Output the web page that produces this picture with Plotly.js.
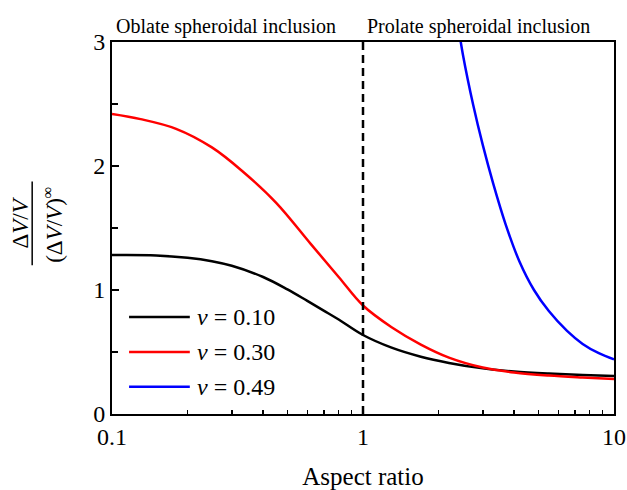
<!DOCTYPE html>
<html>
<head>
<meta charset="utf-8">
<script src="https://cdn.plot.ly/plotly-3.0.1.min.js"></script>
<style>html,body{margin:0;padding:0;background:#fff;}#chart{width:627px;height:490px;}</style>
</head>
<body>
<div id="chart"></div>
<script>
// ---- data ----
const seriesNames = ["<i>ν</i> = 0.10", "<i>ν</i> = 0.30", "<i>ν</i> = 0.49"];
const seriesColors = ["#000000", "#ff0000", "#0000ff"];

const x010 = [0.1, 0.15, 0.2, 0.25, 0.3, 0.4, 0.5, 0.6, 0.7, 0.8, 1.0, 1.3, 1.7, 2.2, 3, 4, 5.5, 7.5, 10];
const y010 = [1.282, 1.279, 1.26, 1.232, 1.195, 1.105, 1.005, 0.912, 0.832, 0.762, 0.637, 0.535, 0.462, 0.412, 0.368, 0.343, 0.326, 0.314, 0.306];

const x030 = [0.1, 0.13, 0.18, 0.25, 0.33, 0.45, 0.62, 0.8, 1.0, 1.3, 1.7, 2.2, 3, 4, 5.5, 7.5, 10];
const y030 = [2.419, 2.378, 2.300, 2.150, 1.960, 1.705, 1.370, 1.105, 0.875, 0.700, 0.560, 0.455, 0.375, 0.335, 0.310, 0.294, 0.282];

const x049 = [2.4, 2.5, 2.75, 3.0, 3.3, 3.7, 4.2, 4.8, 5.5, 6.5, 7.5, 8.7, 10];
const y049 = [3.12, 2.9, 2.49, 2.17, 1.86, 1.53, 1.23, 1.00, 0.83, 0.67, 0.565, 0.49, 0.440];

const xTickVals = [0.1, 1, 10];
const xTickText = ["0.1", "1", "10"];
const yTickVals = [0, 1, 2, 3];
const yTickText = ["0", "1", "2", "3"];
const regionLabels = ["Oblate spheroidal inclusion", "Prolate spheroidal inclusion"];
const dividerX = 1;
const xTitle = "Aspect ratio";

// ---- chart ----
const xs = [x010, x030, x049];
const ys = [y010, y030, y049];
const traces = xs.map((x, i) => ({
  x: x, y: ys[i], type: "scatter", mode: "lines", name: seriesNames[i],
  line: {color: seriesColors[i], width: 2.5, shape: "spline", smoothing: 1},
  showlegend: false, hoverinfo: "skip"
}));
traces.push({
  x: [dividerX, dividerX], y: [0, 3], type: "scatter", mode: "lines",
  line: {color: "#000", width: 2.5, dash: "8px,5px"}, showlegend: false, hoverinfo: "skip"
});

const minorX = [];
[0.1, 1].forEach(d => { for (let k = 2; k <= 9; k++) minorX.push(+(d * k).toFixed(2)); });

const font = '"Liberation Serif", "Times New Roman", serif';
const annotations = [
  {text: regionLabels[0], xref: "paper", yref: "paper", x: 0.227, y: 1.043, showarrow: false,
   xanchor: "center", yanchor: "middle", font: {family: font, size: 20, color: "#000"}},
  {text: regionLabels[1], xref: "paper", yref: "paper", x: 0.731, y: 1.043, showarrow: false,
   xanchor: "center", yanchor: "middle", font: {family: font, size: 20, color: "#000"}},
  // y-axis title as a fraction
  {text: "Δ<i>V</i>/<i>V</i>", xref: "paper", yref: "paper", x: -0.183, y: 0.515, textangle: -90,
   showarrow: false, xanchor: "center", yanchor: "middle", font: {family: font, size: 23, color: "#000"}},
  {text: "(Δ<i>V</i>/<i>V</i>)<sup>∞</sup>", xref: "paper", yref: "paper", x: -0.118, y: 0.508, textangle: -90,
   showarrow: false, xanchor: "center", yanchor: "middle", font: {family: font, size: 23, color: "#000"}}
];
const shapes = [
  {type: "line", xref: "paper", yref: "paper", x0: -0.159, x1: -0.159, y0: 0.40, y1: 0.625,
   line: {color: "#000", width: 1.5}}
];
// manual legend
const legY = [0.261, 0.167, 0.073];
seriesNames.forEach((n, i) => {
  shapes.push({type: "line", xref: "paper", yref: "paper", x0: 0.034, x1: 0.155, y0: legY[i], y1: legY[i],
    line: {color: seriesColors[i], width: 2.5}});
  annotations.push({text: n, xref: "paper", yref: "paper", x: 0.166, y: legY[i], showarrow: false,
    xanchor: "left", yanchor: "middle", font: {family: font, size: 24, color: "#000"}});
});

const layout = {
  width: 627, height: 490,
  margin: {l: 112, r: 13, t: 42, b: 76},
  paper_bgcolor: "#fff", plot_bgcolor: "#fff",
  font: {family: font, color: "#000", size: 24},
  xaxis: {
    type: "log", range: [-1, 1], tickvals: xTickVals, ticktext: xTickText,
    ticks: "inside", ticklen: 7, tickwidth: 1.5, tickcolor: "#000",
    minor: {tickvals: minorX, ticks: "inside", ticklen: 4, tickwidth: 1.5, tickcolor: "#000"},
    showline: true, linecolor: "#000", linewidth: 2, mirror: true,
    showgrid: false, zeroline: false,
    tickfont: {family: font, size: 24, color: "#000"},
    title: {text: xTitle, font: {family: font, size: 25, color: "#000"}, standoff: 20}
  },
  yaxis: {
    range: [0, 3], tickvals: yTickVals, ticktext: yTickText,
    ticks: "inside", ticklen: 7, tickwidth: 1.5, tickcolor: "#000",
    minor: {dtick: 0.5, ticks: "inside", ticklen: 6, tickwidth: 1.5, tickcolor: "#000"},
    showline: true, linecolor: "#000", linewidth: 2, mirror: true,
    showgrid: false, zeroline: false,
    tickfont: {family: font, size: 24, color: "#000"}
  },
  annotations: annotations,
  shapes: shapes,
  showlegend: false
};

Plotly.newPlot("chart", traces, layout, {staticPlot: true, displayModeBar: false});
</script>
</body>
</html>
